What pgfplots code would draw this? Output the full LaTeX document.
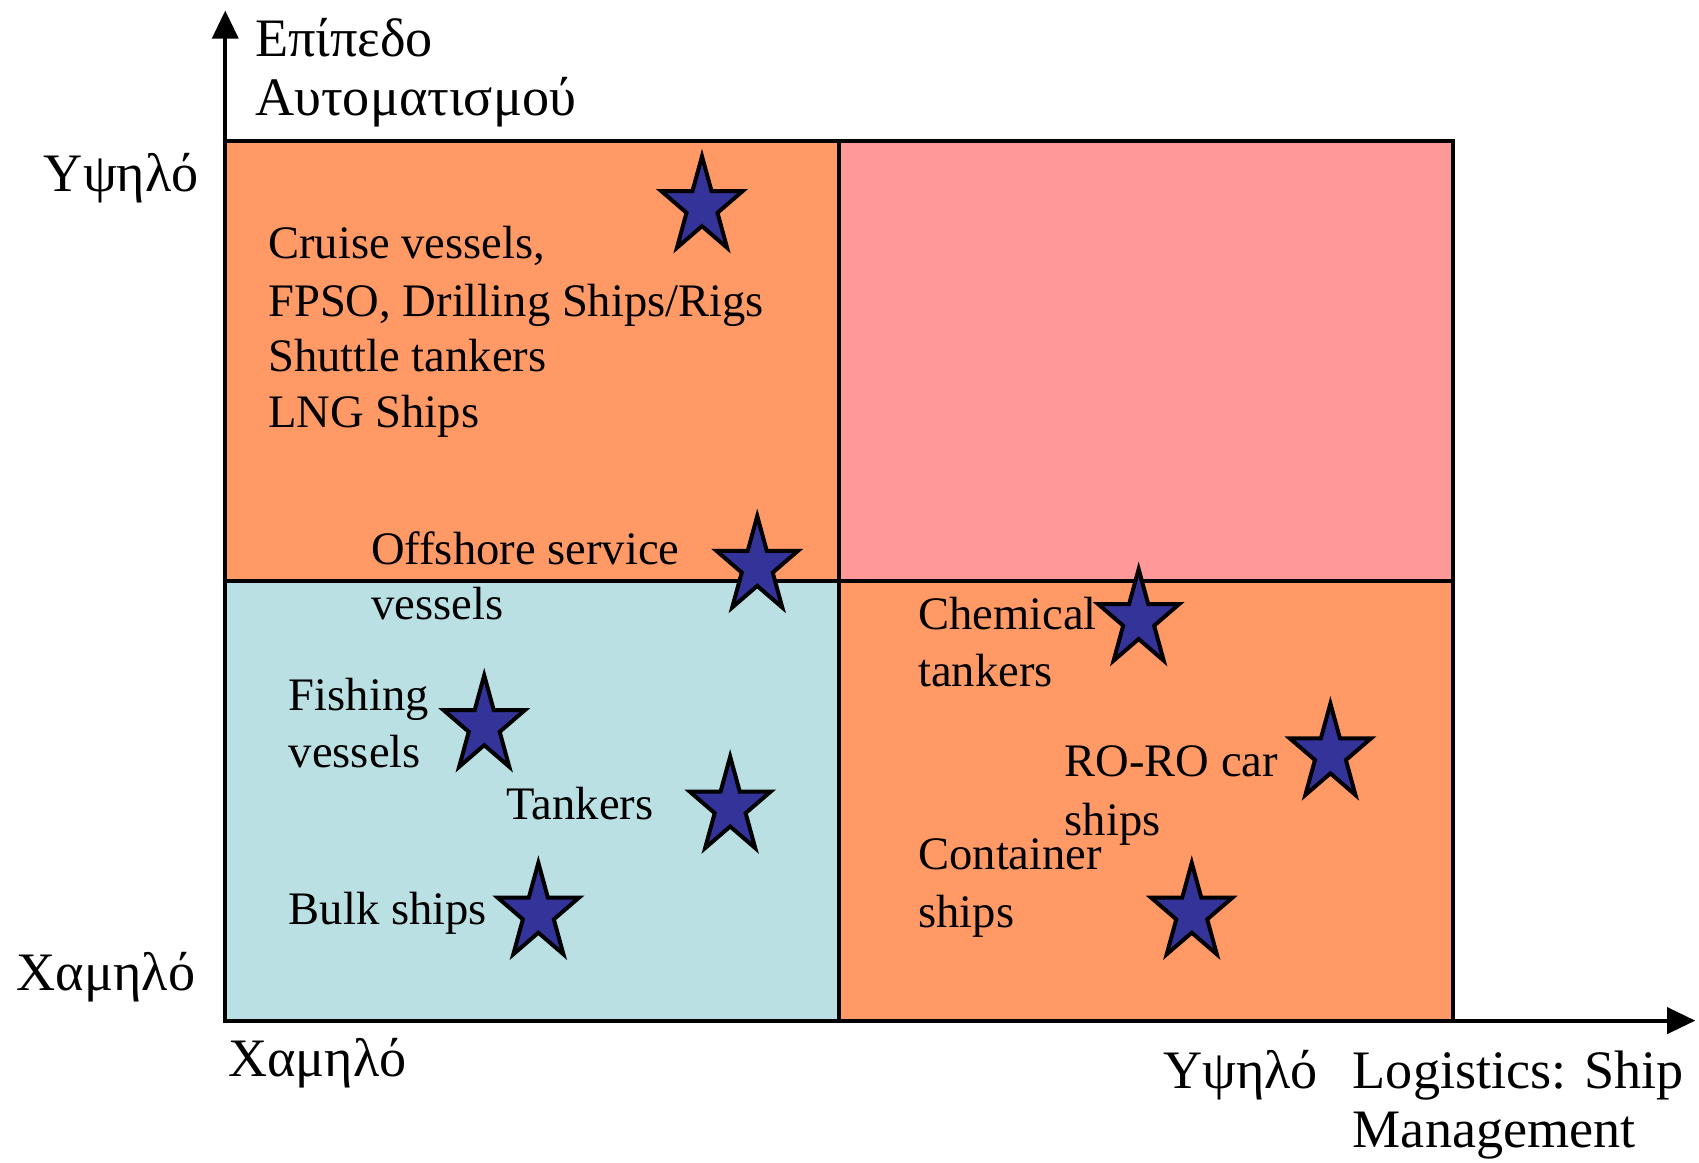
\documentclass[border=0pt]{standalone}
\usepackage{fontspec}
\setmainfont{Liberation Serif}
\usepackage{pgfplots}
\pgfplotsset{compat=1.18}
\usetikzlibrary{arrows.meta}
\definecolor{qorange}{HTML}{FF9966}
\definecolor{qpink}{HTML}{FF9999}
\definecolor{qblue}{HTML}{BAE0E3}
\definecolor{starblue}{HTML}{333399}
\pgfdeclareplotmark{pstar}{%
  \pgfpathmoveto{\pgfpoint{0pt}{14.0pt}}%
  \pgfpathlineto{\pgfpoint{-2.65pt}{4.33pt}}%
  \pgfpathlineto{\pgfpoint{-11.23pt}{4.33pt}}%
  \pgfpathlineto{\pgfpoint{-4.29pt}{-1.65pt}}%
  \pgfpathlineto{\pgfpoint{-6.94pt}{-11.33pt}}%
  \pgfpathlineto{\pgfpoint{0pt}{-5.35pt}}%
  \pgfpathlineto{\pgfpoint{6.94pt}{-11.33pt}}%
  \pgfpathlineto{\pgfpoint{4.29pt}{-1.65pt}}%
  \pgfpathlineto{\pgfpoint{11.23pt}{4.33pt}}%
  \pgfpathlineto{\pgfpoint{2.65pt}{4.33pt}}%
  \pgfpathclose
  \pgfusepathqfillstroke}
\newcommand\fa{\fontsize{12.9}{15.6}\selectfont}
\newcommand\fb{\fontsize{15}{16}\selectfont}
\tikzset{la/.style={anchor=base west, inner sep=0pt, font=\fa},
         lb/.style={anchor=base west, inner sep=0pt, font=\fb}}
\begin{document}
\begin{tikzpicture}
\begin{axis}[
  scale only axis, width=407.0pt, height=279.65pt,
  xmin=0, xmax=2.395, ymin=0, ymax=2.296,
  axis lines=left,
  axis line style={line width=1.1pt, -{Triangle[width=7.2pt,length=7.8pt]}},
  xtick=\empty, ytick=\empty, clip=false,
]
\addplot[fill=qblue, draw=black, line width=1.1pt] coordinates {(0,0) (1,0) (1,1) (0,1)} --cycle;
\addplot[fill=qorange, draw=black, line width=1.1pt] coordinates {(1,0) (2,0) (2,1) (1,1)} --cycle;
\addplot[fill=qorange, draw=black, line width=1.1pt] coordinates {(0,1) (1,1) (1,2) (0,2)} --cycle;
\addplot[fill=qpink, draw=black, line width=1.1pt] coordinates {(1,1) (2,1) (2,2) (1,2)} --cycle;
\addplot[only marks, mark=pstar, mark options={fill=starblue, draw=black, line width=1.1pt}] coordinates {
  (0.7767,1.8498) (0.8667,1.0320) (1.4881,0.9113) (0.4219,0.6700)
  (1.8005,0.6059) (0.8226,0.4852) (0.5101,0.2438) (1.5746,0.2438)};
% quadrant texts
\node[la] at (axis cs:0.0688,1.7315) {Cruise vessels,};
\node[la] at (axis cs:0.0688,1.6010) {FPSO, Drilling Ships/Rigs};
\node[la] at (axis cs:0.0688,1.4754) {Shuttle tankers};
\node[la] at (axis cs:0.0688,1.3473) {LNG Ships};
\node[la] at (axis cs:0.2365,1.0370) {Offshore service};
\node[la] at (axis cs:0.2365,0.9114) {vessels};
\node[la] at (axis cs:0.1024,0.7045) {Fishing};
\node[la] at (axis cs:0.1024,0.5764) {vessels};
\node[la] at (axis cs:0.4572,0.4581) {Tankers};
\node[la] at (axis cs:0.1024,0.2192) {Bulk ships};
\node[la] at (axis cs:1.1280,0.8892) {Chemical};
\node[la] at (axis cs:1.1280,0.7586) {tankers};
\node[la] at (axis cs:1.3663,0.5542) {RO-RO car};
\node[la] at (axis cs:1.3663,0.4212) {ships};
\node[la] at (axis cs:1.1280,0.3424) {Container};
\node[la] at (axis cs:1.1280,0.2118) {ships};
% axis labels
\node[lb] at (axis cs:-0.2966,1.8843) {Υψηλό};
\node[lb] at (axis cs:-0.3407,0.0690) {Χαμηλό};
\node[lb] at (axis cs:0.0035,-0.1280) {Χαμηλό};
\node[lb] at (axis cs:1.5269,-0.1551) {Υψηλό};
\node[lb] at (axis cs:1.8358,-0.1551) {Logistics: Ship};
\node[lb] at (axis cs:1.8358,-0.2882) {Management};
\node[lb] at (axis cs:0.0477,2.1922) {Επίπεδο};
\node[lb] at (axis cs:0.0477,2.0567) {Αυτοματισμού};
\coordinate (BL) at (axis cs:-0.367,-0.3227);
\coordinate (TR) at (axis cs:2.401,2.320);
\end{axis}
\pgfresetboundingbox
\useasboundingbox (BL) rectangle (TR);
\end{tikzpicture}
\end{document}
